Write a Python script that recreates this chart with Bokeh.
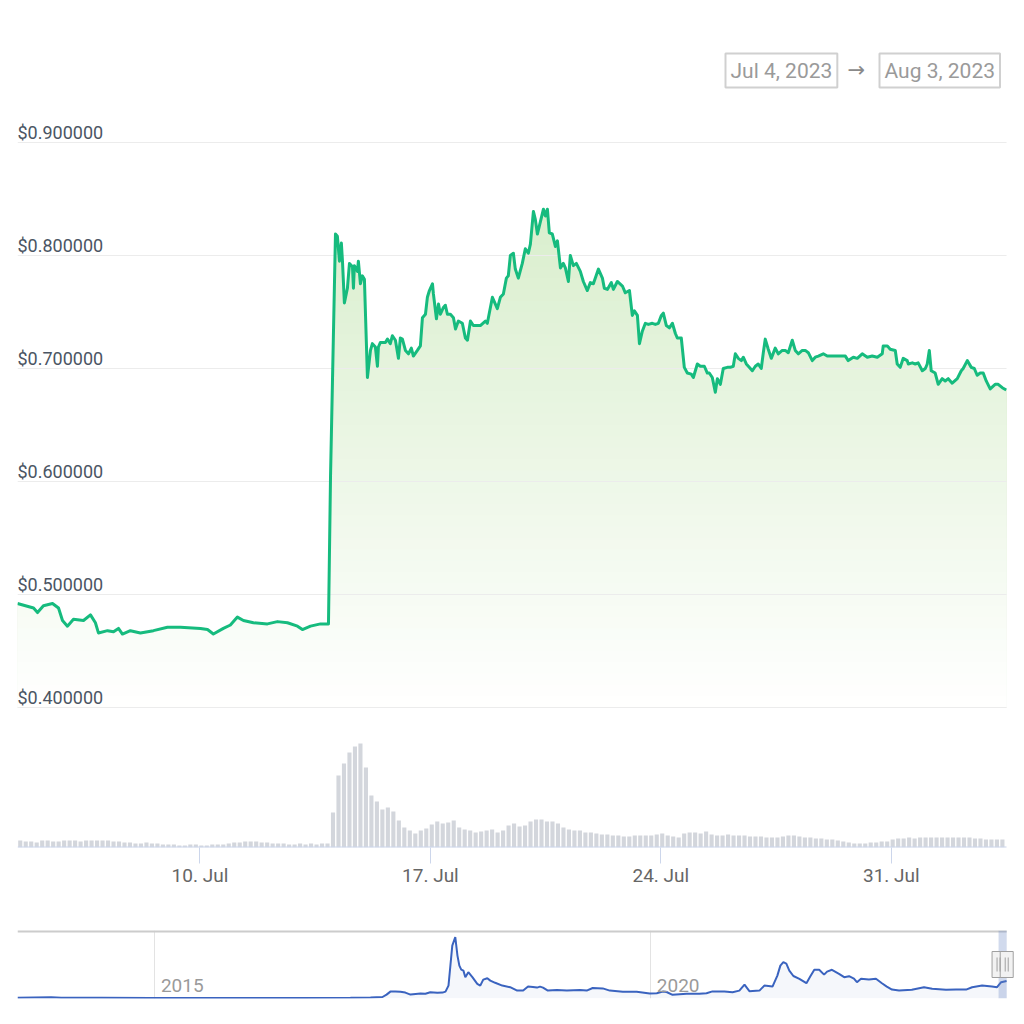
import numpy as np
import pandas as pd
from bokeh.plotting import figure
from bokeh.layouts import column
from bokeh.models import Range1d, FixedTicker, DatetimeTickFormatter, Label
from bokeh.core.properties import value
from bokeh.embed import file_html
from bokeh.resources import INLINE

# ---------------- data ----------------
range_start = pd.Timestamp("2023-07-04 11:00")
range_end = pd.Timestamp("2023-08-03 12:00")
range_labels = ["Jul 4, 2023", "Aug 3, 2023"]

# hours after range_start
price_hours = [
    0, 5.8, 11.7, 14.6, 18.9, 25.5, 29.9, 32.8, 36.4, 40.8, 48.1, 53.2, 56.8, 59.0, 65.6, 70.0,
    73.6, 76.5, 82.3, 89.6, 99.1, 109.3, 118.8, 133.4, 138.5, 142.8, 150.1, 155.2, 160.3, 164.7,
    172.0, 182.2, 189.5, 196.8, 204.1, 207.7, 213.6, 220.9, 226.7, 228.2, 231.8, 233.2, 234.7,
    236.1, 236.9, 238.3, 240.5, 242.0, 244.2, 244.9, 245.6, 247.8, 248.5, 250.0, 251.4, 252.9,
    255.1, 257.3, 258.7, 260.9, 262.4, 263.1, 264.5, 268.2, 269.7, 271.8, 273.3, 275.5, 277.7,
    279.1, 280.6, 282.8, 285.0, 287.1, 288.6, 291.5, 293.7, 295.2, 297.4, 298.8, 300.3, 302.5,
    303.2, 305.4, 306.9, 308.3, 310.5, 311.9, 313.4, 315.6, 317.8, 319.3, 321.4, 324.3, 326.5,
    328.0, 330.2, 332.3, 337.4, 341.1, 342.5, 346.2, 349.8, 352.0, 354.2, 356.4, 357.8, 359.3,
    361.5, 362.9, 365.1, 368.0, 370.2, 372.4, 373.9, 376.1, 377.5, 379.0, 381.2, 383.4, 384.8,
    386.3, 387.7, 389.9, 392.1, 393.6, 395.8, 397.9, 399.4, 401.6, 403.0, 405.2, 407.4, 410.3,
    412.5, 415.4, 417.6, 419.8, 423.5, 426.4, 427.8, 430.0, 432.9, 434.4, 437.3, 441.0, 443.1,
    446.1, 448.2, 449.7, 451.9, 453.4, 455.5, 457.7, 459.9, 462.8, 465.0, 467.2, 469.4, 470.8,
    473.0, 475.2, 477.4, 479.6, 481.0, 483.9, 486.1, 488.3, 491.2, 492.7, 495.6, 497.8, 500.7,
    502.9, 504.3, 506.5, 508.7, 510.2, 512.4, 514.5, 517.5, 519.6, 521.8, 523.3, 525.5, 527.7,
    529.1, 531.3, 532.8, 535.7, 537.9, 540.0, 542.2, 543.7, 545.1, 547.3, 549.5, 552.4, 554.6,
    557.5, 559.7, 561.9, 564.8, 567.0, 569.2, 572.1, 574.3, 576.5, 579.4, 581.6, 583.8, 587.4,
    590.3, 592.5, 596.2, 599.8, 603.5, 605.6, 609.3, 612.2, 615.8, 619.5, 623.1, 626.8, 630.4,
    631.1, 634.1, 636.2, 639.9, 641.3, 643.5, 645.7, 648.6, 649.4, 652.3, 654.5, 656.6, 659.6,
    661.8, 663.2, 664.7, 666.1, 669.0, 671.2, 674.1, 676.3, 678.5, 681.4, 685.1, 688.0, 689.4,
    692.4, 695.3, 697.5, 699.6, 701.8, 704.0, 706.2, 709.1, 712.7, 714.9, 717.9, 720.8,
]
price_usd = [
    0.492, 0.490, 0.488, 0.484, 0.490, 0.492, 0.488, 0.477, 0.472, 0.478, 0.477, 0.482, 0.475, 0.466, 0.468, 0.467,
    0.470, 0.465, 0.468, 0.466, 0.468, 0.471, 0.471, 0.470, 0.469, 0.465, 0.470, 0.473, 0.480, 0.477,
    0.475, 0.474, 0.476, 0.475, 0.472, 0.469, 0.472, 0.474, 0.474, 0.605, 0.819, 0.817, 0.795,
    0.811, 0.795, 0.758, 0.771, 0.793, 0.790, 0.771, 0.791, 0.786, 0.795, 0.775, 0.782, 0.779,
    0.692, 0.716, 0.722, 0.719, 0.702, 0.719, 0.723, 0.723, 0.726, 0.722, 0.729, 0.725, 0.709,
    0.727, 0.726, 0.716, 0.713, 0.718, 0.711, 0.716, 0.720, 0.745, 0.748, 0.763, 0.769, 0.775,
    0.766, 0.744, 0.757, 0.748, 0.754, 0.756, 0.748, 0.748, 0.745, 0.735, 0.742, 0.740, 0.727,
    0.725, 0.742, 0.738, 0.738, 0.742, 0.740, 0.763, 0.753, 0.763, 0.766, 0.780, 0.782, 0.800,
    0.802, 0.788, 0.780, 0.793, 0.806, 0.802, 0.810, 0.839, 0.832, 0.819, 0.830, 0.841, 0.835,
    0.841, 0.820, 0.819, 0.808, 0.813, 0.789, 0.793, 0.789, 0.777, 0.800, 0.791, 0.793, 0.786,
    0.777, 0.769, 0.776, 0.775, 0.788, 0.780, 0.771, 0.770, 0.776, 0.770, 0.777, 0.773, 0.767,
    0.769, 0.747, 0.751, 0.747, 0.722, 0.733, 0.740, 0.739, 0.740, 0.739, 0.740, 0.747, 0.749,
    0.738, 0.736, 0.740, 0.731, 0.727, 0.727, 0.701, 0.696, 0.695, 0.692, 0.704, 0.702, 0.702,
    0.696, 0.696, 0.692, 0.679, 0.691, 0.686, 0.700, 0.701, 0.701, 0.702, 0.713, 0.709, 0.707,
    0.710, 0.704, 0.702, 0.698, 0.702, 0.704, 0.700, 0.714, 0.726, 0.717, 0.709, 0.718, 0.713,
    0.716, 0.716, 0.714, 0.725, 0.716, 0.713, 0.716, 0.716, 0.714, 0.707, 0.710, 0.711, 0.713,
    0.711, 0.711, 0.711, 0.711, 0.711, 0.707, 0.710, 0.709, 0.713, 0.710, 0.711, 0.710, 0.713,
    0.720, 0.720, 0.717, 0.716, 0.704, 0.701, 0.709, 0.707, 0.704, 0.705, 0.704, 0.705, 0.698,
    0.700, 0.704, 0.716, 0.698, 0.696, 0.686, 0.691, 0.689, 0.691, 0.687, 0.691, 0.698, 0.700,
    0.707, 0.701, 0.700, 0.694, 0.696, 0.696, 0.689, 0.682, 0.686, 0.686, 0.683, 0.681,
]

# one bar per 4 hours, million USD
volume_musd = [
    70, 60, 60, 50, 70, 70, 60, 60, 70, 70, 70, 60, 70, 70, 70, 70, 70, 60, 60, 50, 50,
    40, 40, 50, 40, 40,
    30, 30, 30, 20, 20, 30, 30, 20, 20, 30, 30, 30,
    40, 50, 50, 60, 60, 60, 50, 50,
    40, 40, 40, 30, 30, 40, 30, 40, 30, 40, 40,
    350, 720, 840, 950, 1010, 1040, 800, 520, 460, 380, 400, 360, 270, 200, 170, 140, 170, 190,
    230, 260, 240, 250, 270, 200, 180, 170, 150, 160, 170, 180, 150, 170, 220, 240, 210, 220,
    260, 280, 280, 260, 260, 240, 200, 180, 170, 170, 150, 150, 140, 130, 130, 120, 120, 110,
    110, 120, 120, 120, 120, 130, 140, 120, 110, 100, 140, 150, 150, 140, 160, 130, 120, 120,
    130, 120, 120, 120, 110, 110, 110, 100, 100, 100, 110, 120, 120, 110, 100, 100, 90, 90,
    80, 80, 70, 60, 50, 40, 40, 40, 50, 50, 60, 60, 80, 90, 90, 100, 90, 100, 100, 100, 100,
    100, 100, 100, 100, 100, 100, 90, 90, 80, 80, 80, 80,
]

y_ticks = [0.4, 0.5, 0.6, 0.7, 0.8, 0.9]
y_tick_labels = ["$0.400000", "$0.500000", "$0.600000", "$0.700000", "$0.800000", "$0.900000"]
x_tick_dates = ["2023-07-10", "2023-07-17", "2023-07-24", "2023-07-31"]

nav_dates = [
    "2013-08-13", "2013-12-15", "2014-01-21", "2014-06-17", "2014-12-17", "2015-06-19",
    "2015-12-20", "2016-06-20", "2016-12-21", "2017-03-05", "2017-04-18", "2017-05-03",
    "2017-05-17", "2017-06-04", "2017-06-23", "2017-07-11", "2017-07-30", "2017-08-18",
    "2017-09-05", "2017-09-23", "2017-10-11", "2017-11-06", "2017-11-25", "2017-12-06",
    "2017-12-17", "2017-12-24", "2017-12-31", "2018-01-11", "2018-01-19", "2018-01-26",
    "2018-02-02", "2018-02-10", "2018-02-17", "2018-02-28", "2018-03-15", "2018-04-02",
    "2018-04-13", "2018-04-24", "2018-05-09", "2018-05-20", "2018-06-07", "2018-07-03",
    "2018-08-01", "2018-08-27", "2018-09-18", "2018-10-06", "2018-10-24", "2018-11-08",
    "2018-11-19", "2018-11-30", "2018-12-18", "2019-01-20", "2019-02-26", "2019-04-15",
    "2019-05-10", "2019-06-01", "2019-07-08", "2019-08-03", "2019-09-20", "2019-11-10",
    "2019-12-28", "2020-01-23", "2020-02-14", "2020-02-28", "2020-03-21", "2020-05-12",
    "2020-06-28", "2020-07-24", "2020-08-15", "2020-09-28", "2020-10-28", "2020-11-22",
    "2020-12-11", "2020-12-29", "2021-02-04", "2021-02-22", "2021-03-24", "2021-04-11",
    "2021-04-22", "2021-05-03", "2021-05-14", "2021-05-25", "2021-06-09", "2021-07-01",
    "2021-07-27", "2021-08-10", "2021-08-25", "2021-09-12", "2021-09-30", "2021-10-11",
    "2021-10-29", "2021-11-24", "2021-12-13", "2021-12-31", "2022-01-18", "2022-01-29",
    "2022-02-13", "2022-03-14", "2022-04-09", "2022-05-01", "2022-05-19", "2022-06-07",
    "2022-07-03", "2022-08-19", "2022-10-03", "2022-11-02", "2022-12-23", "2023-01-29",
    "2023-03-07", "2023-03-29", "2023-05-05", "2023-06-10", "2023-06-29", "2023-07-14",
    "2023-08-03",
]
nav_price = [
    0.02, 0.05, 0.02, 0.02, 0.015, 0.015,
    0.01, 0.01, 0.02, 0.03, 0.06, 0.18,
    0.33, 0.33, 0.32, 0.28, 0.18, 0.21,
    0.23, 0.22, 0.30, 0.27, 0.28, 0.33,
    0.63, 1.63, 2.63, 3.05, 2.13, 1.63,
    1.43, 1.38, 1.05, 1.30, 1.05, 0.72,
    0.63, 0.93, 1.00, 0.88, 0.77, 0.63,
    0.55, 0.38, 0.38, 0.58, 0.56, 0.53,
    0.58, 0.53, 0.38, 0.41, 0.38, 0.41,
    0.38, 0.51, 0.49, 0.38, 0.32, 0.32,
    0.23, 0.25, 0.33, 0.31, 0.17, 0.22,
    0.22, 0.25, 0.34, 0.33, 0.30, 0.38,
    0.68, 0.35, 0.38, 0.63, 0.58, 1.13,
    1.63, 1.80, 1.73, 1.38, 1.11, 0.97,
    0.75, 1.08, 1.42, 1.42, 1.18, 1.33,
    1.42, 1.22, 1.05, 1.10, 0.98, 0.80,
    0.97, 0.93, 0.97, 0.75, 0.58, 0.43,
    0.38, 0.42, 0.55, 0.47, 0.42, 0.43,
    0.43, 0.55, 0.63, 0.58, 0.55, 0.80,
    0.86,
]
nav_year_dates = ["2015-01-01", "2020-01-01"]
nav_year_labels = ["2015", "2020"]

# ---------------- helpers ----------------
FONT = "Roboto"
t_price = range_start + pd.to_timedelta(price_hours, unit="h")
pr = np.array(price_usd)
t_vol = [range_start + pd.Timedelta(hours=4 * i + 2) for i in range(len(volume_musd))]

# frame spans the full width on the right (layouts align frames); data stops at range_end
main_view_end = range_end + pd.Timedelta(hours=13.1)

# ---------------- main chart ----------------
p = figure(
    width=1024, height=900, x_axis_type="datetime",
    x_range=Range1d(range_start, main_view_end), y_range=Range1d(0.27611, 1.02566),
    y_axis_location=None, output_backend="svg", toolbar_location=None,
    min_border_left=17, min_border_right=0, min_border_top=0, min_border_bottom=53,
)
p.outline_line_color = None
p.xgrid.visible = False
p.ygrid.visible = False
p.background_fill_color = "white"
p.border_fill_color = "white"
p.extra_y_ranges = {"vol": Range1d(0, 8470)}

# volume
p.vbar(x=t_vol, top=volume_musd, width=3 * 3600 * 1000, y_range_name="vol",
       fill_color="#d3d6dc", line_color=None)

# gradient fill under the price line
top_rgb = (212, 236, 198)
levels = np.round(np.arange(0.86, 0.399, -0.01), 3)
for hi in levels:
    frac = max(0.0, (hi - 0.005 - 0.4) / 0.5)
    col = "#%02x%02x%02x" % tuple(int(round(255 + (c - 255) * frac)) for c in top_rgb)
    p.varea(x=t_price, y1=0.4, y2=np.clip(pr, 0.4, hi), fill_color=col, fill_alpha=1.0)

# horizontal grid lines (only across the data span)
n = len(y_ticks)
p.segment(x0=[range_start] * n, x1=[range_end] * n, y0=y_ticks, y1=y_ticks,
          line_color="#ececec", line_width=1)

# price line
p.line(t_price, pr, line_color="#16bb7e", line_width=3, line_join="round")

# y labels inside plot, just above their grid lines
p.text(x=[range_start] * n, y=y_ticks, text=y_tick_labels,
       text_font=value(FONT), text_font_size="18px", text_color="#4b5563",
       text_align="left", text_baseline="middle", y_offset=-10)

# x axis line (drawn as a segment so it stops at range_end)
p.segment(x0=[range_start], x1=[range_end], y0=[0], y1=[0], y_range_name="vol",
          line_color="#ccd6eb", line_width=2)

ax = p.xaxis[0]
ax.ticker = FixedTicker(ticks=[pd.Timestamp(d).value // 10**6 for d in x_tick_dates])
fmt = "%d. %b"
ax.formatter = DatetimeTickFormatter(
    microseconds=fmt, milliseconds=fmt, seconds=fmt, minsec=fmt, minutes=fmt,
    hourmin=fmt, hours=fmt, days=fmt, months=fmt, years=fmt)
ax.axis_line_color = None
ax.major_tick_line_color = "#ccd6eb"
ax.major_tick_out = 16
ax.major_tick_in = 0
ax.minor_tick_line_color = None
ax.major_label_text_font = FONT
ax.major_label_text_font_size = "19px"
ax.major_label_text_color = "#666666"
ax.major_label_standoff = 0

# date range boxes (screen units relative to the frame)
for lbl, sx in zip(range_labels, [708, 862]):
    p.add_layout(Label(x=sx, y=777, x_units="screen", y_units="screen", text=lbl,
                       text_font=FONT, text_font_size="21px", text_color="#9a9a9a",
                       text_align="left", text_baseline="middle",
                       border_line_color="#d0d0d0", border_line_width=2,
                       background_fill_color="white", padding=5))
p.add_layout(Label(x=830, y=778, x_units="screen", y_units="screen", text="→",
                   text_font="DejaVu Sans", text_font_size="21px", text_color="#8a8a8a",
                   text_align="left", text_baseline="middle"))

# ---------------- navigator ----------------
nav_start = pd.Timestamp("2013-08-13")
nav_end = pd.Timestamp("2023-10-08")
ny0, ny1 = -0.015, 3.385
nav = figure(
    width=1024, height=124, x_axis_type="datetime",
    x_range=Range1d(nav_start, nav_end), y_range=Range1d(ny0, ny1),
    x_axis_location=None, y_axis_location=None, output_backend="svg", toolbar_location=None,
    min_border_left=17, min_border_right=0, min_border_top=30, min_border_bottom=26,
)
nav.outline_line_color = None
nav.xgrid.visible = False
nav.ygrid.visible = False

nd = pd.to_datetime(nav_dates)
yd = pd.to_datetime(nav_year_dates)
nav.vspan(x=yd, line_color="#e3e3e3", line_width=1)
nav.segment(x0=[nav_start], x1=[range_end], y0=[ny1], y1=[ny1],
            line_color="#cccccc", line_width=4)
nav.varea(x=nd, y1=0, y2=nav_price, fill_color="#335cad", fill_alpha=0.05)
nav.line(nd, nav_price, line_color="#3a63bf", line_width=2)
nav.text(x=yd, y=[0, 0], text=nav_year_labels, text_font=value(FONT), text_font_size="19px",
         text_color="#9a9a9a", text_align="left", text_baseline="middle",
         x_offset=6, y_offset=-13)

# selected range mask + handles
nav.quad(left=[range_start], right=[range_end], bottom=[ny0], top=[ny1],
         fill_color="#6685c2", fill_alpha=0.3, line_color=None)
mid = (ny0 + ny1) / 2
nav.rect(x=[range_start, range_end], y=[mid, mid], width=13, height=26,
         width_units="screen", height_units="screen",
         fill_color="#f2f2f2", line_color="#a0a0a0", line_width=1)
px_days = (nav_end - nav_start) / 1007.0
gx = []
for c in [range_start, range_end]:
    gx += [c - 1.5 * px_days, c + 1.5 * px_days]
gh = 0.35
nav.segment(x0=gx, y0=[mid - gh] * 4, x1=gx, y1=[mid + gh] * 4,
            line_color="#a0a0a0", line_width=1)

layout = column(p, nav, spacing=0)
open("out.html", "w").write(file_html(layout, INLINE))
